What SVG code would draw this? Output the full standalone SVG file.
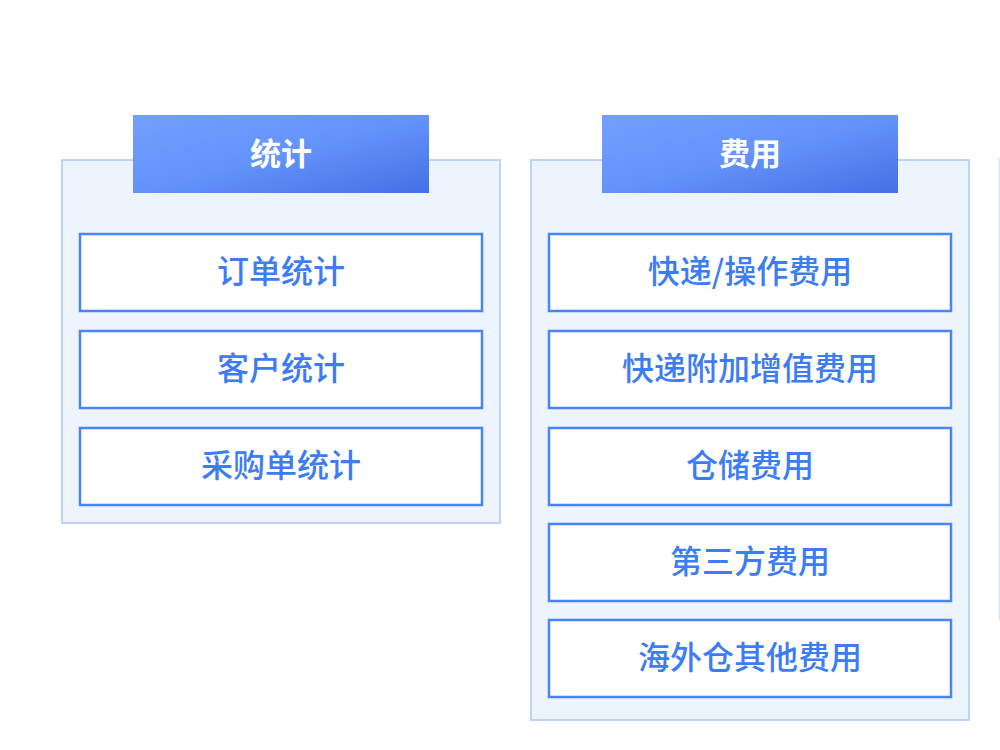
<svg xmlns="http://www.w3.org/2000/svg" width="1000" height="750" viewBox="0 0 1000 750">
<defs>
<linearGradient id="hg" x1="0" y1="0" x2="1" y2="1">
<stop offset="0" stop-color="#73a0fe"/>
<stop offset="0.5" stop-color="#6393fb"/>
<stop offset="1" stop-color="#4470e3"/>
</linearGradient>
<style>
.panel{fill:#eef4fe;stroke:#bcd3fb;stroke-width:2}
.head{fill:url(#hg)}
.htxt{font-family:"Noto Sans CJK SC","Noto Sans",sans-serif;font-size:31px;font-weight:bold;fill:#ffffff;text-anchor:middle;dominant-baseline:central}
.box{fill:#ffffff;stroke:#4785f8;stroke-width:2.5}
.btxt{font-family:"Noto Sans CJK SC","Noto Sans",sans-serif;font-size:32px;font-weight:500;fill:#3c7cf4;text-anchor:middle;dominant-baseline:central}
</style>
</defs>
<rect width="1000" height="750" fill="#ffffff"/>
<line x1="999.5" y1="158" x2="999.5" y2="620" stroke="#d3e2fb" stroke-width="1.5"/>
<g id="panel-stats">
<rect class="panel" x="62" y="160" width="438" height="363"/>
<rect class="head" x="133" y="115" width="296" height="78"/>
<text class="htxt" x="281" y="151">统计</text>
</g>
<g id="node-order-stats"><rect class="box" x="80" y="234" width="402" height="77"/><text class="btxt" x="281" y="269">订单统计</text></g>
<g id="node-customer-stats"><rect class="box" x="80" y="331" width="402" height="77"/><text class="btxt" x="281" y="366">客户统计</text></g>
<g id="node-purchase-stats"><rect class="box" x="80" y="428" width="402" height="77"/><text class="btxt" x="281" y="463">采购单统计</text></g>
<g id="panel-fees">
<rect class="panel" x="531" y="160" width="438" height="560"/>
<rect class="head" x="602" y="115" width="296" height="78"/>
<text class="htxt" x="750" y="151">费用</text>
</g>
<g id="node-express-fee"><rect class="box" x="549" y="234" width="402" height="77"/><text class="btxt" x="750" y="269">快递/操作费用</text></g>
<g id="node-express-addon-fee"><rect class="box" x="549" y="331" width="402" height="77"/><text class="btxt" x="750" y="366">快递附加增值费用</text></g>
<g id="node-storage-fee"><rect class="box" x="549" y="428" width="402" height="77"/><text class="btxt" x="750" y="463">仓储费用</text></g>
<g id="node-thirdparty-fee"><rect class="box" x="549" y="524" width="402" height="77"/><text class="btxt" x="750" y="559">第三方费用</text></g>
<g id="node-overseas-fee"><rect class="box" x="549" y="620" width="402" height="77"/><text class="btxt" x="750" y="655">海外仓其他费用</text></g>
<g id="connectors"></g>
</svg>
